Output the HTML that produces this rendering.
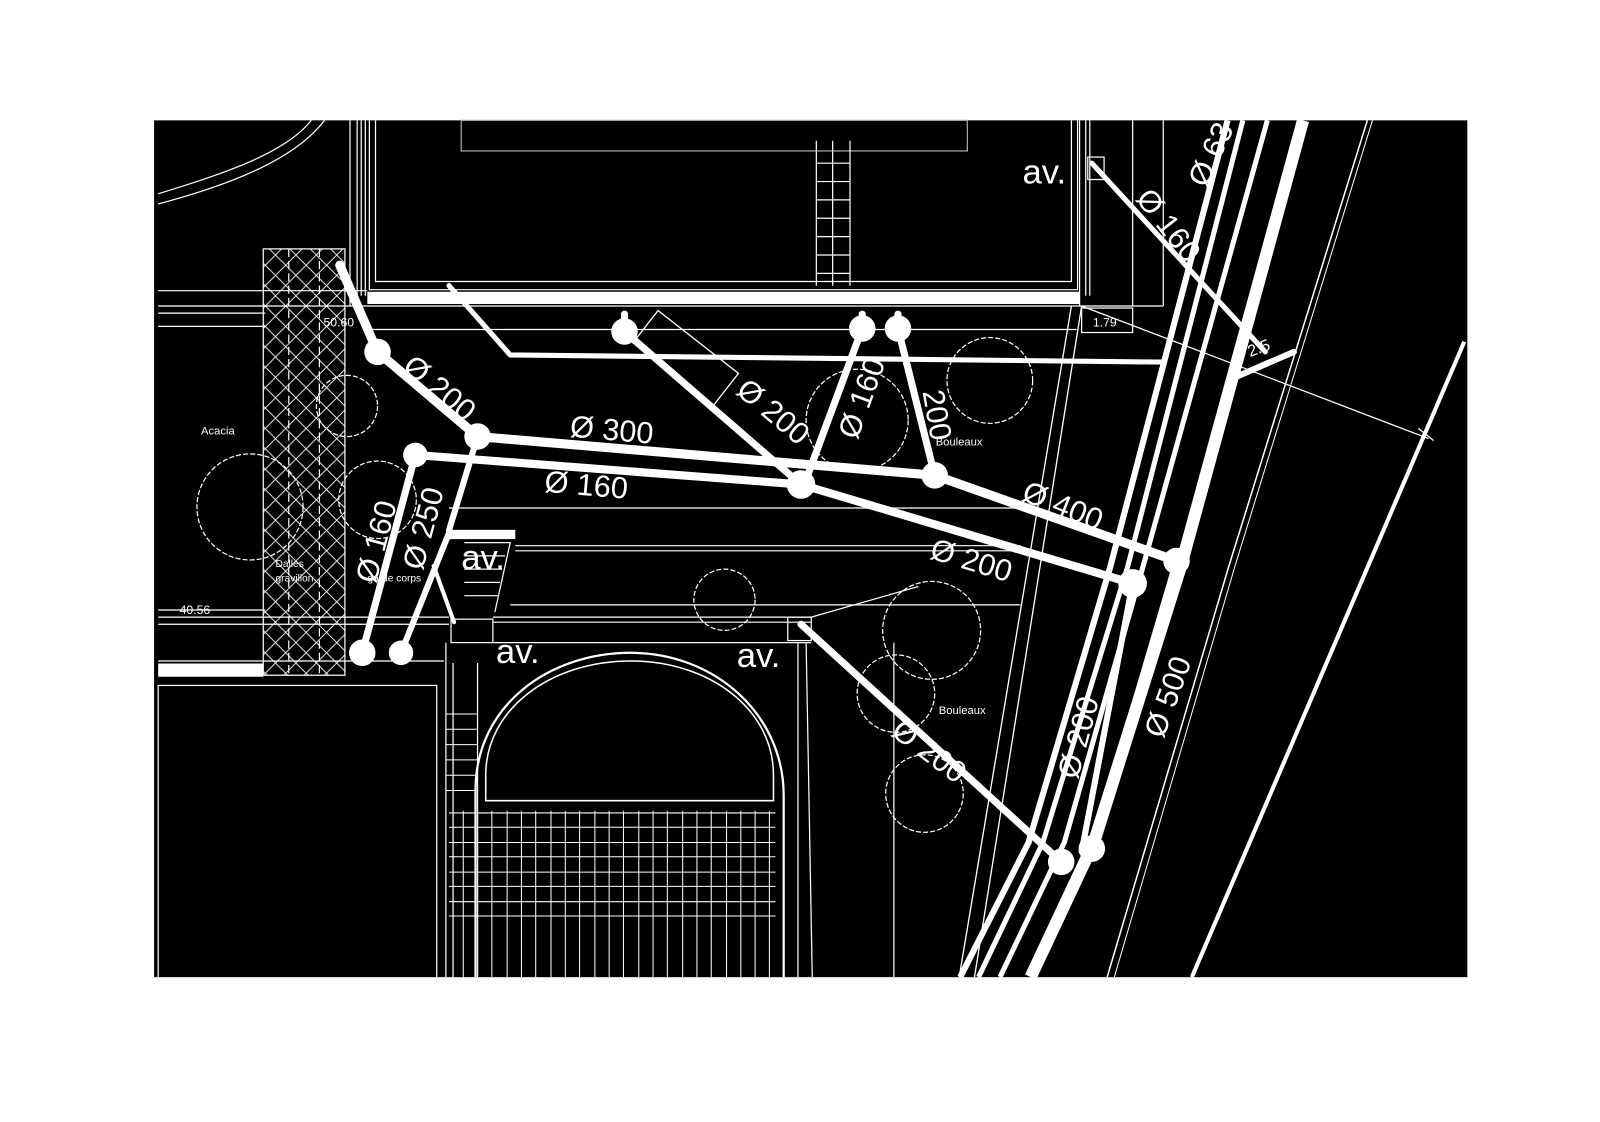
<!DOCTYPE html>
<html><head><meta charset="utf-8"><style>
html,body{margin:0;padding:0;background:#fff;width:1600px;height:1122px;overflow:hidden}
svg{display:block}
text{font-family:"Liberation Sans",sans-serif;fill:#fff}
</style></head><body>
<svg width="1600" height="1122" viewBox="0 0 1568 1100" preserveAspectRatio="none" xmlns="http://www.w3.org/2000/svg">
<defs>
<pattern id="hx" width="20" height="20" patternUnits="userSpaceOnUse">
<path d="M0 0L20 20M20 0L0 20" stroke="#fff" stroke-width="0.9" fill="none"/>
</pattern>
</defs>
<rect x="0" y="0" width="1568" height="1100" fill="#fff"/>
<rect x="151" y="118" width="1287" height="840" fill="#000"/>

<g stroke="#fff" fill="none" stroke-width="1.2">
<path d="M155 190 C220 170 280 150 305 118"/>
<path d="M155 200 C230 180 290 155 318 118"/>
<path d="M354 118V290M358 118V290M368 118V276H1050V118M362 118V284H1056V118"/>
<rect x="452" y="118" width="496" height="30" stroke="#aaa"/>
<path d="M800 138V280M833 138V280M816 138V280"/>
<path d="M800 160H833M800 178H833M800 196H833M800 214H833M800 232H833M800 250H833M800 268H833"/>
<path d="M1064 118V290M1068 118V290M1058 118V300M1110 118V300M1140 118V300"/>
<rect x="1066" y="154" width="16" height="22"/>
<rect x="1060" y="302" width="50" height="24"/>
<path d="M155 285H360M155 300H1060M360 323H1055M155 320H260M155 307H260M1060 300H1140"/>
<path d="M1060 300L1400 430M1390 420L1405 432"/>
<path d="M343 118V300M350 118V300"/>
<path d="M155 605H440M155 612H440M155 648H435M155 598H260"/>
<rect x="258" y="244" width="80" height="418" fill="url(#hx)"/>
<path d="M283 244V662M313 244V662" stroke-dasharray="8 4"/>
<rect x="155" y="672" width="273" height="290"/>
<path d="M455 532L500 532L485 600M455 545H495M455 558H492M455 571H490M455 584H488"/>
<rect x="442" y="607" width="41" height="23"/>
<path d="M483 605H795M483 610H795M483 630H795M437 630V958M444 650V958M468 650V958"/>
<rect x="772" y="605" width="23" height="23"/>
<path d="M505 540H1000M505 535H1000M440 498H1000M500 593H1000"/>
<path d="M466 958V775C466 690 540 640 618 640C700 640 768 700 768 780V958" stroke-width="2.2"/>
<path d="M476 785V760C476 695 540 648 618 648C695 648 758 695 758 760V785Z" stroke-width="1.5"/>
<path d="M790 630L796 958M782 630V958M876 630V958"/>
<path d="M795 605L900 575"/>
</g>
<g stroke="#fff" stroke-width="1" fill="none">
<path d="M440 797H760M440 811H760M440 826H760M440 840H760M440 855H760M440 869H760M440 884H760M440 898H760M437 700H468M437 715H468M437 730H468M437 745H468M437 760H468M437 775H468"/>
<path d="M454 795V958M468 795V958M482 795V958M497 795V958M511 795V958M525 795V958M540 795V958M554 795V958M568 795V958M583 795V958M597 795V958M611 795V958M626 795V958M640 795V958M654 795V958M669 795V958M683 795V958M697 795V958M712 795V958M726 795V958M740 795V958M754 795V958"/>
</g>
<g stroke="#fff" fill="none" stroke-width="1.2" stroke-dasharray="5 2">
<circle cx="245" cy="497" r="52"/>
<circle cx="970" cy="373" r="42"/>
<circle cx="840" cy="412" r="50"/>
<circle cx="710" cy="588" r="30"/>
<circle cx="913" cy="618" r="48"/>
<circle cx="878" cy="680" r="38"/>
<circle cx="906" cy="778" r="38"/>
<circle cx="370" cy="490" r="38"/>
<circle cx="340" cy="398" r="30"/>
</g>
<g stroke="#fff" fill="none" stroke-linejoin="round">
<path d="M1203 118L1088 556L1008 826L941 958" stroke-width="6"/>
<path d="M1218 118L1105 556L1022 826L959 958" stroke-width="5"/>
<path d="M1242 118L1120 556L1043 826L980 958" stroke-width="5"/>
<path d="M1277 118L1157 556L1072 826L1010 958" stroke-width="12"/>
<path d="M1340 118L1204 556L1085 958" stroke-width="1.5"/>
<path d="M1345 118L1210 556L1092 958" stroke-width="1"/>
<path d="M1435 335L1168 958" stroke-width="4"/>
<path d="M1050 300L940 958M1060 300L955 958" stroke-width="1.3"/>
</g>
<g stroke="#fff" fill="none" stroke-linejoin="round" stroke-linecap="round">
<path d="M333 260L370 345L468 428L916 466L1153 550" stroke-width="9"/>
<path d="M407 446L785 475L1110 572" stroke-width="8"/>
<path d="M612 308V325L785 475" stroke-width="7"/>
<path d="M845 308V322L790 470" stroke-width="7"/>
<path d="M880 308V322L916 466" stroke-width="7"/>
<path d="M407 446L355 640" stroke-width="7"/>
<path d="M468 428L440 520M441 520L393 640" stroke-width="6"/>
<path d="M785 612L1040 845" stroke-width="7"/>
<path d="M1070 160L1240 345" stroke-width="5"/>
<path d="M1210 370L1268 345" stroke-width="6"/>
<path d="M440 280L500 348L1140 355" stroke-width="5"/>
<path d="M425 555L445 610" stroke-width="4"/>
<path d="M360 292H1058" stroke-width="12" stroke-linecap="butt"/>
<path d="M155 657H258" stroke-width="13" stroke-linecap="butt"/>
<path d="M440 524H505" stroke-width="9" stroke-linecap="butt"/>
<path d="M1110 572L1060 835M1153 550L1070 832" stroke-width="6"/>
</g>
<rect x="622" y="331" width="100" height="40" transform="rotate(38 672 351)" stroke="#fff" fill="none" stroke-width="1.3"/>
<g fill="#fff">
<circle cx="370" cy="345" r="13"/><circle cx="468" cy="428" r="13"/><circle cx="407" cy="446" r="12"/>
<circle cx="612" cy="325" r="13"/><circle cx="845" cy="322" r="13"/><circle cx="880" cy="322" r="13"/>
<circle cx="785" cy="475" r="14"/><circle cx="916" cy="466" r="13"/><circle cx="1153" cy="550" r="13"/>
<circle cx="1110" cy="572" r="14"/><circle cx="355" cy="640" r="13"/><circle cx="393" cy="640" r="12"/>
<circle cx="1070" cy="832" r="13"/><circle cx="1040" cy="845" r="13"/>
</g>
<g font-size="30">
<text transform="translate(393 362) rotate(40)">Ø 200</text>
<text transform="translate(558 428) rotate(5)">Ø 300</text>
<text transform="translate(533 482) rotate(5)">Ø 160</text>
<text transform="translate(720 385) rotate(40)">Ø 200</text>
<text transform="translate(840 432) rotate(-70)">Ø 160</text>
<text transform="translate(904 384) rotate(80)">200</text>
<text transform="translate(1000 490) rotate(22)">Ø 400</text>
<text transform="translate(910 547) rotate(17)">Ø 200</text>
<text transform="translate(368 573) rotate(-75)">Ø 160</text>
<text transform="translate(414 560) rotate(-75)">Ø 250</text>
<text transform="translate(872 720) rotate(37)">Ø 200</text>
<text transform="translate(1140 725) rotate(-70)">Ø 500</text>
<text transform="translate(1112 195) rotate(52)">Ø 160</text>
<text transform="translate(1182 185) rotate(-65)">Ø 63</text>
<text transform="translate(1056 765) rotate(-75)">Ø 200</text>
</g>
<g font-size="34">
<text x="1002" y="180">av.</text>
<text x="452" y="558">av.</text>
<text x="486" y="650">av.</text>
<text x="722" y="654">av.</text>
</g>
<g font-size="12">
<text x="1071" y="320">1.79</text>
<text x="317" y="320">50.60</text>
<text x="176" y="602">40.56</text>
<text x="197" y="426" font-size="11">Acacia</text>
<text x="920" y="700" font-size="11">Bouleaux</text>
<text x="917" y="437" font-size="11">Bouleaux</text>
<text x="270" y="556" font-size="10">Dalles</text>
<text x="270" y="570" font-size="10">gravillon</text>
<text x="360" y="570" font-size="10">garde corps</text>
<text transform="translate(1225 350) rotate(-20)" font-size="16">2.5</text>
</g>
</svg>
</body></html>
